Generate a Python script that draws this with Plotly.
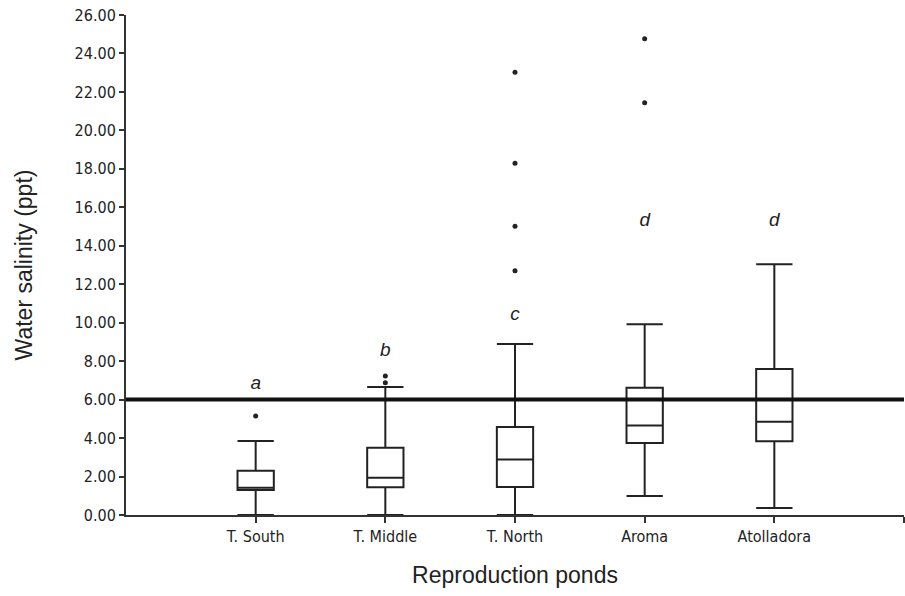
import plotly.graph_objects as go

# Ponds and summary statistics of water salinity (ppt)
ponds = ["T. South", "T. Middle", "T. North", "Aroma", "Atolladora"]
lower_whisker = [0.0, 0.0, 0.0, 0.99, 0.36]
q1 = [1.30, 1.44, 1.46, 3.74, 3.83]
median = [1.42, 1.94, 2.88, 4.66, 4.85]
q3 = [2.30, 3.50, 4.58, 6.62, 7.59]
upper_whisker = [3.85, 6.66, 8.89, 9.92, 13.04]

# Outliers per pond
outliers = [
    [5.15],
    [6.88, 7.23],
    [12.70, 15.01, 18.29, 23.02],
    [21.44, 24.77],
    [],
]

# Significance letters and their heights
group_letters = ["a", "b", "c", "d", "d"]
letter_y = [6.8, 8.5, 10.4, 15.3, 15.3]

threshold = 6.0
positions = list(range(len(ponds)))

fig = go.Figure()

# Reference salinity threshold, drawn first so boxes sit over it
fig.add_trace(go.Scatter(
    x=[-1, 5], y=[threshold, threshold], mode="lines",
    line=dict(color="#111111", width=4), hoverinfo="skip", showlegend=False,
))

fig.add_trace(go.Box(
    x=positions, q1=q1, median=median, q3=q3,
    lowerfence=lower_whisker, upperfence=upper_whisker,
    width=0.28, whiskerwidth=1,
    fillcolor="white", line=dict(color="#222222", width=2),
    boxpoints=False, showlegend=False,
))

ox, oy = [], []
for i, vals in enumerate(outliers):
    for v in vals:
        ox.append(i)
        oy.append(v)
fig.add_trace(go.Scatter(
    x=ox, y=oy, mode="markers",
    marker=dict(color="#222222", size=5), showlegend=False,
))

fig.add_trace(go.Scatter(
    x=positions, y=letter_y, mode="text", text=group_letters,
    textfont=dict(family="Liberation Sans", size=19, color="#222222"),
    texttemplate="<i>%{text}</i>", showlegend=False,
))

tick_font = dict(family="DejaVu Sans Condensed, Liberation Sans Narrow, Roboto",
                 size=16, color="#222222")
title_font = dict(family="Liberation Sans, Arial", size=23, color="#222222")

fig.update_layout(
    width=905, height=596,
    margin=dict(l=126, r=1, t=15, b=81),
    plot_bgcolor="white", paper_bgcolor="white",
    xaxis=dict(
        range=[-1, 5], tickmode="array",
        tickvals=positions + [5], ticktext=ponds + [""],
        ticks="outside", ticklen=6, tickcolor="#333333", tickwidth=1.5,
        showline=True, linecolor="#333333", linewidth=2,
        showgrid=False, zeroline=False, tickfont=tick_font,
        title=dict(text="Reproduction ponds", font=title_font, standoff=22),
    ),
    yaxis=dict(
        range=[0, 26], tickmode="array",
        tickvals=list(range(0, 27, 2)),
        ticktext=[f"{v:.2f}" for v in range(0, 27, 2)],
        ticks="outside", ticklen=5, tickcolor="#333333", tickwidth=1.5,
        showline=True, linecolor="#333333", linewidth=2,
        showgrid=False, zeroline=False, tickfont=tick_font,
        title=dict(text="Water salinity (ppt)", font=title_font, standoff=36),
    ),
)

fig.write_html("out.html")
